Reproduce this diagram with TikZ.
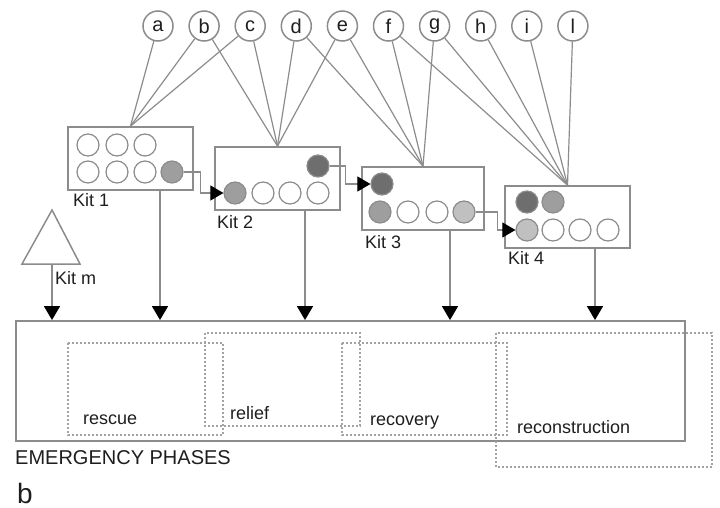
\documentclass[tikz,border=0pt]{standalone}
\usepackage{fontspec}
\setmainfont{Liberation Sans}
\definecolor{KitLine}{HTML}{8C8C8C}
\definecolor{KitDark}{HTML}{6E6E6E}
\definecolor{KitMid}{HTML}{9E9E9E}
\definecolor{KitLight}{HTML}{C0C0C0}
\definecolor{KitText}{HTML}{1E1E1E}
\usetikzlibrary{arrows.meta,positioning}

\begin{document}
\begin{tikzpicture}[x=1pt,y=-1pt,
  every node/.style={font=\fontsize{18}{20}\selectfont,text=KitText},
  lbl/.style={circle,draw=KitLine,line width=1.5pt,minimum size=30pt,inner sep=0pt,font=\fontsize{20}{22}\selectfont},
  kitbox/.style={draw=KitLine,line width=1.8pt,minimum width=125pt,minimum height=63pt,inner sep=0pt},
  dot/.style={circle,draw=KitLine,line width=1.2pt,minimum size=22pt,inner sep=0pt},
  feed/.style={KitLine,line width=1.2pt},
  flow/.style={KitLine,line width=1.1pt,-{Triangle[length=13pt,width=15pt,color=black,fill=black]}},
  drop/.style={KitLine,line width=1.7pt,-{Triangle[length=14pt,width=16pt,color=black,fill=black]}},
  phase/.style={draw=KitLine!80,line width=1.3pt,dash pattern=on 2pt off 2pt},
  kitlbl/.style={anchor=west,inner sep=0pt}]
  \useasboundingbox (0,0) rectangle (720,508);

  % requirements
  \foreach \t [count=\i from 0] in {a,b,c,d,e,f,g,h,i,l}
    \node[lbl] (\t) at (158+46.1*\i,26) {\t};

  % kits
  \node[kitbox] (kit1) at (130.5,158.5) {};
  \node[kitbox] (kit2) at (277.5,178.5) {};
  \node[kitbox,minimum width=122pt] (kit3) at (423,198.5) {};
  \node[kitbox,minimum height=62pt] (kit4) at (567.5,217) {};
  \node[kitlbl] (kit1lbl) at (73,200) {Kit 1};
  \node[kitlbl] (kit2lbl) at (217,222) {Kit 2};
  \node[kitlbl] (kit3lbl) at (365,242) {Kit 3};
  \node[kitlbl] (kit4lbl) at (508,258) {Kit 4};

  \foreach \x/\y in {88/145,117/145,145/145,88/172,117/172,145/172,
                     263/193,290/193,318/193,408/212,437/212,
                     553/230,580/230,608/230}
    \node[dot,fill=white] at (\x,\y) {};
  \node[dot,fill=KitMid] (k1s) at (172,172) {};
  \node[dot,fill=KitDark] (k2t) at (318,166) {};
  \node[dot,fill=KitMid] (k2s) at (235,193) {};
  \node[dot,fill=KitDark] (k3t) at (382,184) {};
  \node[dot,fill=KitMid] (k3s) at (380,212) {};
  \node[dot,fill=KitLight] (k3e) at (464,212) {};
  \node[dot,fill=KitDark] (k4t) at (527,202) {};
  \node[dot,fill=KitMid] (k4m) at (553,202) {};
  \node[dot,fill=KitLight] (k4s) at (527,230) {};

  \foreach \t in {a,b,c} \draw[feed] (\t) -- (kit1.north);
  \foreach \t in {b,c,d,e} \draw[feed] (\t) -- (kit2.north);
  \foreach \t in {d,e,f,g} \draw[feed] (\t) -- (kit3.north);
  \foreach \t in {f,g,h,i,l} \draw[feed] (\t) -- (kit4.north);

  \draw[flow] (k1s.east) -- ++(17,0) |- (k2s.west);
  \draw[flow] (k2t.east) -- ++(16,0) |- (k3t.west);
  \draw[flow] (k3e.east) -- ++(22,0) |- (k4s.west);

  % kit m
  \draw[KitLine,line width=1.5pt] (22,264) -- (52,210) -- (80,264) -- cycle;
  \coordinate (kitm) at (52,264);
  \node[kitlbl] (kitmlbl) at (55,278) {Kit m};

  % phases
  \node[draw=KitLine,line width=1.9pt,minimum width=669pt,minimum height=120pt,inner sep=0pt] (phases) at (350.5,381) {};
  \draw[drop] (kitm) -- (kitm |- phases.north);
  \foreach \k/\x in {1/160,2/305,3/450,4/595} {
    \coordinate (x\k) at (\x,0);
    \draw[drop] (kit\k.south -| x\k) -- (phases.north -| x\k);
  }

  \draw[phase] (68,343) rectangle (223,435);
  \draw[phase] (205,333) rectangle (360,426);
  \draw[phase] (342,343) rectangle (507,435);
  \draw[phase] (496,333) rectangle (712,467);
  \node[kitlbl] (rescue) at (83,420) {rescue};
  \node[kitlbl] (relief) at (230,413) {relief};
  \node[kitlbl] (recovery) at (370,423) {recovery};
  \node[kitlbl] (reconstruction) at (517,427) {reconstruction};

  \node[kitlbl,font=\fontsize{20}{22}\selectfont] (title) at (15,458) {EMERGENCY PHASES};
  \node[kitlbl,font=\fontsize{28}{30}\selectfont] (panel) at (17,493) {b};
\end{tikzpicture}
\end{document}
